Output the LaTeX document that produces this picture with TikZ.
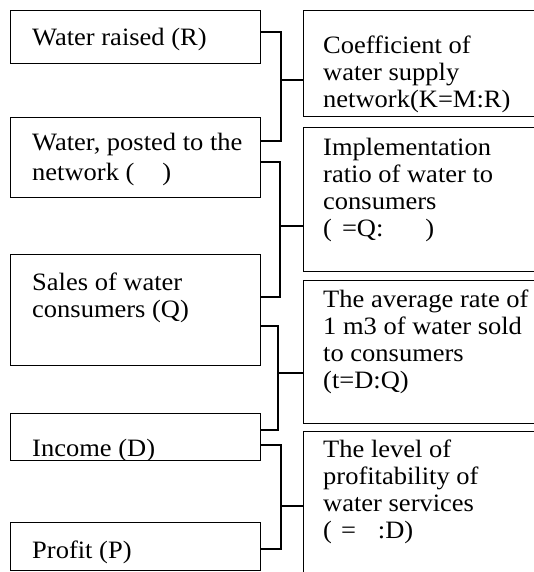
\documentclass[tikz,border=0pt]{standalone}
\usepackage{fontspec}
\setmainfont{Liberation Serif}[FakeStretch=1.06]
\usetikzlibrary{calc}
\newcommand\mlines[1]{\begin{tabular}[t]{@{}l@{}}#1\end{tabular}}
\begin{document}
\begin{tikzpicture}[x=1pt,y=-1pt,
  box/.style={draw,line width=1.3pt,anchor=north west,inner sep=0pt,minimum width=250pt},
  rbox/.style={draw,line width=1.3pt,anchor=north west,inner sep=0pt,minimum width=240pt},
  txt/.style={anchor=base west,inner sep=0pt,font=\fontsize{25}{27}\selectfont},
  conn/.style={line width=1.3pt}]
\useasboundingbox (0,0) rectangle (534,572);
\clip (0,0) rectangle (534,572);
\fill[white] (0,0) rectangle (534,572);
% left boxes
\node[box,minimum height=53pt]  (b1) at (10,10)  {};
\node[box,minimum height=80pt]  (b2) at (10,117) {};
\node[box,minimum height=111pt] (b3) at (10,254) {};
\node[box,minimum height=47pt]  (b4) at (10,413) {};
\node[box,minimum height=48pt]  (b5) at (10,522) {};
% right boxes
\node[rbox,minimum height=106pt] (r1) at (303,10)  {};
\node[rbox,minimum height=144pt] (r2) at (303,127) {};
\node[rbox,minimum height=143pt] (r3) at (303,280) {};
\node[rbox,minimum height=160pt] (r4) at (303,431) {};
% texts
\node[txt] (t1) at (32,46) {Water raised (R)};
\node[txt] (t2) at (32,151) {\mlines{Water, posted to the\\[2pt] network (\hspace{28pt})}};
\node[txt] (t3) at (32,290) {\mlines{Sales of water\\consumers (Q)}};
\begin{scope}
\clip (b4.north west) rectangle ($(b4.south east)+(0,-1.5)$);
\node[txt] (t4) at (32,456) {Income (D)};
\end{scope}
\node[txt] (t5) at (32,558) {Profit (P)};
\begin{scope}
\clip (r1.north west) rectangle ($(r1.south east)+(0,-5)$);
\node[txt] (u1) at (323,54) {\mlines{Coefficient of\\water supply\\network(K=M:R)}};
\end{scope}
\node[txt] (u2) at (323,156) {\mlines{Implementation\\ratio of water to\\consumers\\(\hspace{10pt}=Q:\hspace{42pt})}};
\node[txt] (u3) at (323,307) {\mlines{The average rate of\\1 m3 of water sold\\to consumers\\(t=D:Q)}};
\node[txt] (u4) at (323,457) {\mlines{The level of\\profitability of\\water services\\(\hspace{9pt}=\hspace{22pt}:D)}};
% connectors
\coordinate (k1) at (281,80);
\coordinate (k2) at (280,226);
\coordinate (k3) at (278,373);
\coordinate (k4) at (281,506);
\draw[conn] ($(b1.north east)+(0,22)$) -| (k1) |- ($(b2.north east)+(0,24)$);
\draw[conn] (k1) -- (k1 -| r1.west);
\draw[conn] ($(b2.north east)+(0,45)$) -| (k2) |- ($(b3.north east)+(0,43)$);
\draw[conn] (k2) -- (k2 -| r2.west);
\draw[conn] ($(b3.north east)+(0,72)$) -| (k3) |- ($(b4.north east)+(0,17)$);
\draw[conn] (k3) -- (k3 -| r3.west);
\draw[conn] ($(b4.north east)+(0,32)$) -| (k4) |- ($(b5.north east)+(0,27)$);
\draw[conn] (k4) -- (k4 -| r4.west);
\end{tikzpicture}
\end{document}
